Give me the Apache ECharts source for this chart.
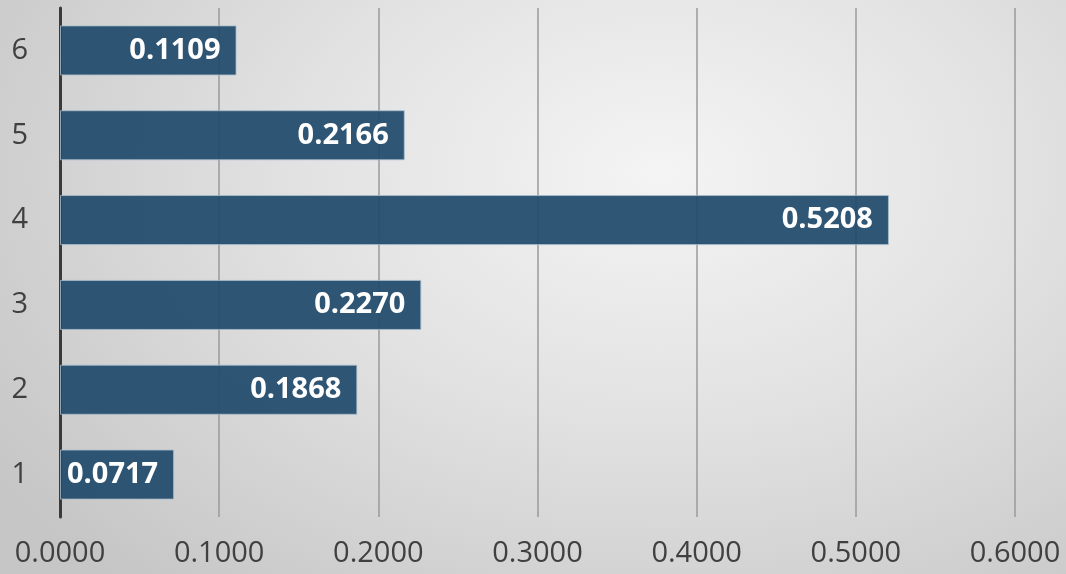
<!DOCTYPE html>
<html><head><meta charset="utf-8">
<script src="https://cdn.jsdelivr.net/npm/echarts@6/dist/echarts.min.js"></script>
<style>
html,body{margin:0;padding:0;}
#c{width:1066px;height:574px;background:radial-gradient(ellipse 75% 95% at 62% 30%, #f4f4f4 0%, #e2e2e2 45%, #c6c6c6 100%);}
</style></head>
<body><div id="c"></div>
<script>
const categories = ['1','2','3','4','5','6'];
const values = [0.0717, 0.1868, 0.2270, 0.5208, 0.2166, 0.1109];
const xTicks = {min: 0, max: 0.6, interval: 0.1};

const chart = echarts.init(document.getElementById('c'), null, {renderer: 'canvas'});
chart.setOption({
  backgroundColor: 'transparent',
  animation: false,
  grid: {left: 60, right: 51, top: 8, bottom: 57, containLabel: false},
  xAxis: {
    type: 'value', min: xTicks.min, max: xTicks.max, interval: xTicks.interval,
    axisLine: {show: false}, axisTick: {show: false},
    splitLine: {show: true, lineStyle: {color: '#9a9a9a', width: 1.5}},
    axisLabel: {formatter: v => v.toFixed(4), color: '#404040', fontFamily: 'Open Sans', fontSize: 29, margin: 22}
  },
  yAxis: {
    type: 'category', data: categories,
    axisLine: {show: true, lineStyle: {color: '#3a3a3a', width: 3}},
    axisTick: {show: false},
    axisLabel: {color: '#404040', fontFamily: 'Open Sans', fontSize: 29, margin: 32}
  },
  series: [{
    type: 'bar', data: values, barCategoryGap: '41%',
    itemStyle: {color: 'rgba(32,74,106,0.93)', borderColor: 'rgba(170,190,205,0.8)', borderWidth: 1},
    label: {show: true, position: 'insideRight', distance: 16, formatter: p => p.value.toFixed(4),
      color: '#ffffff', fontFamily: 'Open Sans', fontWeight: 'bold', fontSize: 29}
  }]
});
</script></body></html>
